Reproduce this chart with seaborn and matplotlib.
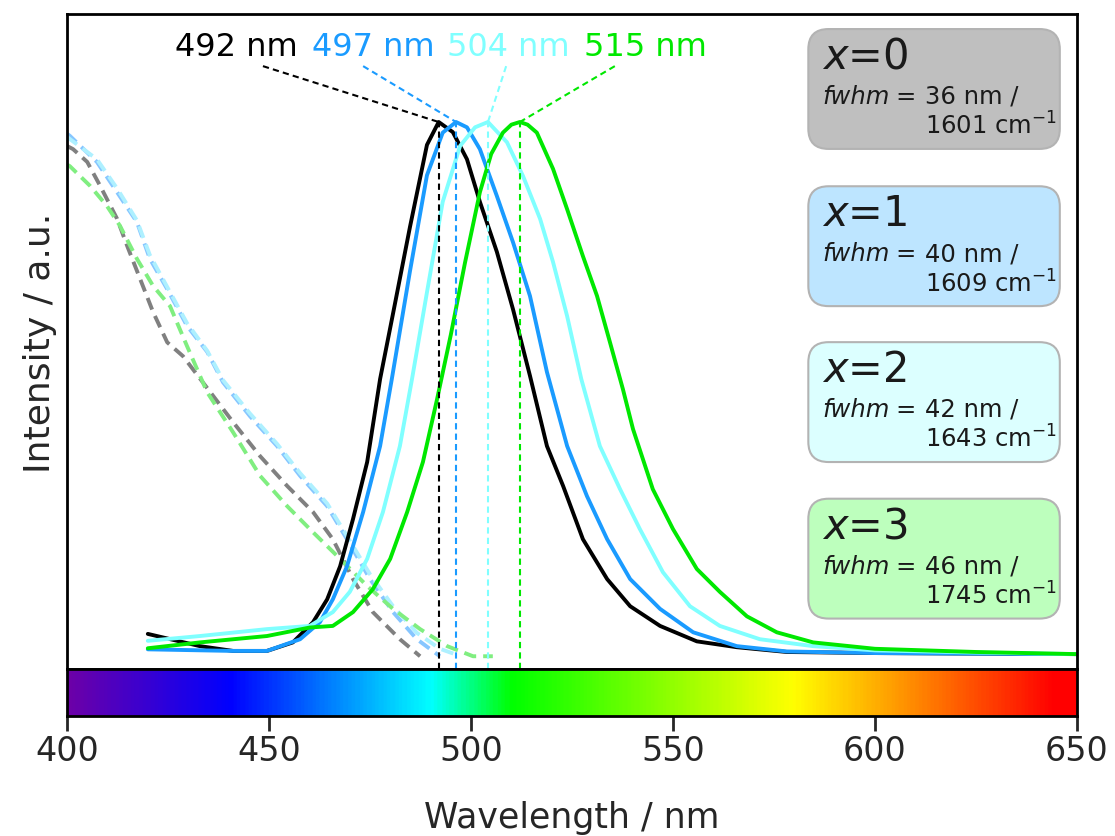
import numpy as np
import pandas as pd
import matplotlib
matplotlib.use("Agg")
import matplotlib.pyplot as plt
import seaborn as sns
from matplotlib.patches import FancyBboxPatch
from matplotlib.colors import LinearSegmentedColormap

# ---------------- data ----------------
# emission spectra (solid)
em0_wl = [420, 432.9, 441.1, 449.5, 455.9, 460.9, 464.4, 467.6, 470.8, 474.3, 477.5, 480.7, 484.9,
          489.1, 492, 495.5, 499, 502.2, 506.4, 510.4, 514.6, 518.8, 522.8, 527.7, 533.7, 539.4,
          546.8, 555.9, 565.8, 578.2, 600, 625, 650]
em0_I = [0.038, 0.015, 0.006, 0.006, 0.022, 0.06, 0.103, 0.165, 0.254, 0.361, 0.517, 0.64, 0.803,
         0.957, 1.0, 0.981, 0.93, 0.85, 0.756, 0.648, 0.523, 0.391, 0.316, 0.216, 0.141, 0.09,
         0.053, 0.024, 0.013, 0.004, 0.002, 0.001, 0.0]

em1_wl = [420, 441.1, 449.5, 457.7, 462.6, 465.8, 469.3, 473.3, 477.5, 480.4, 484.9, 489.1, 493,
          496.3, 499, 502.2, 506.4, 510.4, 514.6, 518.8, 523.8, 528.7, 533.7, 539.4, 546.8, 555,
          565.8, 578.2, 600, 625, 650]
em1_I = [0.009, 0.006, 0.006, 0.028, 0.06, 0.103, 0.165, 0.267, 0.391, 0.517, 0.72, 0.9, 0.98,
         1.0, 0.99, 0.949, 0.861, 0.774, 0.673, 0.53, 0.391, 0.297, 0.216, 0.141, 0.085, 0.041,
         0.015, 0.005, 0.002, 0.001, 0.0]

em2_wl = [420, 432.9, 449.5, 460.1, 465.8, 470, 474.3, 478.2, 482.4, 485.4, 489.1, 493, 497.3, 501,
          504.2, 508.9, 512.9, 517.1, 520.3, 523.8, 527.3, 531.9, 536.9, 541.8, 547.5, 554.2, 561.6,
          571.5, 584.7, 600, 625, 650]
em2_I = [0.025, 0.034, 0.047, 0.053, 0.079, 0.117, 0.179, 0.267, 0.391, 0.517, 0.68, 0.85, 0.955,
         0.99, 1.0, 0.962, 0.898, 0.818, 0.737, 0.635, 0.517, 0.391, 0.31, 0.235, 0.154, 0.09, 0.053,
         0.028, 0.015, 0.007, 0.003, 0.0]

em3_wl = [420, 432.9, 449.5, 460.1, 465.8, 470.8, 475.7, 480, 484.2, 488.1, 491.6, 495, 498.5, 502.2,
          505, 507.9, 510, 512.1, 514, 516.3, 520.3, 523.8, 527.7, 531.2, 534.4, 537.6, 540.1, 545,
          550, 555.9, 561.6, 568.3, 575.7, 584.7, 600, 625, 650]
em3_I = [0.011, 0.022, 0.034, 0.05, 0.053, 0.079, 0.122, 0.179, 0.267, 0.361, 0.479, 0.6, 0.735,
         0.868, 0.94, 0.98, 0.995, 1.0, 0.995, 0.98, 0.912, 0.836, 0.748, 0.673, 0.586, 0.498,
         0.423, 0.31, 0.235, 0.16, 0.117, 0.071, 0.041, 0.022, 0.01, 0.004, 0.0]

# absorption / excitation spectra (dashed)
ab0_wl = [400, 401.5, 405, 408.2, 412.4, 414.9, 418.1, 421.3, 424.8, 428.7, 432.2, 434.7, 441.1,
          447.8, 454.5, 460.9, 465.8, 470.8, 475.7, 482.4, 487.4]
ab0_I = [0.955, 0.949, 0.925, 0.88, 0.818, 0.767, 0.705, 0.643, 0.586, 0.56, 0.525, 0.5, 0.436,
         0.372, 0.316, 0.267, 0.216, 0.141, 0.079, 0.028, -0.004]

ab1_wl = [400, 400.7, 407.4, 412.4, 417.3, 420.5, 424.8, 429.7, 434.7, 438.6, 445.3, 452, 457.7,
          464.4, 469.3, 475, 480.7, 486.6, 492.3]
ab1_I = [0.978, 0.974, 0.925, 0.868, 0.812, 0.743, 0.686, 0.617, 0.568, 0.511, 0.447, 0.391,
         0.335, 0.278, 0.216, 0.141, 0.079, 0.028, -0.004]

ab2_wl = [400, 400.7, 407.4, 412.4, 417.3, 420.5, 424.8, 429.7, 434.7, 438.6, 445.3, 452, 457.7,
          464.4, 469.3, 475, 480.7, 486.6, 492.3, 496]
ab2_I = [0.972, 0.968, 0.93, 0.875, 0.815, 0.75, 0.69, 0.622, 0.57, 0.515, 0.452, 0.395, 0.34,
         0.283, 0.222, 0.15, 0.09, 0.04, 0.01, 0.0]

ab3_wl = [400, 400.7, 405.7, 409.9, 413.1, 417.3, 421.3, 425.5, 429.7, 434.7, 441.1, 447.8, 454.5,
          460.9, 467.6, 474.3, 480.7, 487.4, 494.1, 500.5, 505.4]
ab3_I = [0.92, 0.917, 0.88, 0.842, 0.805, 0.743, 0.692, 0.654, 0.579, 0.492, 0.417, 0.335, 0.278,
         0.229, 0.179, 0.128, 0.085, 0.047, 0.015, -0.004, -0.004]

# peak annotations
peak_labels = ["492 nm", "497 nm", "504 nm", "515 nm"]
peak_pos = [492, 496.3, 504.2, 512.1]
label_x = [441.8, 475.7, 509.2, 543.3]
leader_x = [448.5, 473.3, 508.7, 535.6]

# info boxes
x_values = [0, 1, 2, 3]
fwhm_nm = [36, 40, 42, 46]
fwhm_cm = [1601, 1609, 1643, 1745]

# colours
em_colors = ["#000000", "#1a9bff", "#80ffff", "#00e800"]
ab_colors = ["#808080", "#86c6ff", "#aef0ff", "#80ee80"]
box_colors = ["#bfbfbf", "#bde5ff", "#dcffff", "#bdffbd"]

# visible spectrum stops for the colour bar
spec_wl = [400, 440, 490, 510, 580, 645, 650]
spec_col = ["#6c00a8", "#0000ff", "#00ffff", "#00ff00", "#ffff00", "#ff0000", "#ff0000"]

# ---------------- plotting ----------------
sns.set_style("white")
plt.rcParams['font.family'] = ['DejaVu Sans']
plt.rcParams['mathtext.fontset'] = 'dejavusans'

fig = plt.figure(figsize=(11.15, 8.37), dpi=100)
ax = fig.add_axes([0.0601, 0.1995, 0.9058, 0.7826])
cax = fig.add_axes([0.0601, 0.1434, 0.9058, 0.0561])

ab_sets = [(ab0_wl, ab0_I), (ab1_wl, ab1_I), (ab2_wl, ab2_I), (ab3_wl, ab3_I)]
for (wl, inten), c in zip(ab_sets, ab_colors):
    sns.lineplot(x=wl, y=inten, ax=ax, color=c, lw=2.8, linestyle=(0, (3.2, 1.8)), sort=True)

em_sets = [(em0_wl, em0_I), (em1_wl, em1_I), (em2_wl, em2_I), (em3_wl, em3_I)]
for (wl, inten), c in zip(em_sets, em_colors):
    sns.lineplot(x=wl, y=inten, ax=ax, color=c, lw=2.8, sort=True)

ymin, ymax = -0.028, 1.203
for lab, p, lx, sx, c in zip(peak_labels, peak_pos, label_x, leader_x, em_colors):
    ax.plot([p, p], [ymin, 1.0], color=c, lw=1.5, linestyle=(0, (3, 2)))
    ax.plot([sx, p], [1.105, 1.0], color=c, lw=1.5, linestyle=(0, (3, 2)))
    ax.text(lx, 1.141, lab, color=c, fontsize=23, ha='center', va='center')

ax.set_xlim(400, 650)
ax.set_ylim(ymin, ymax)
ax.set_xticks([])
ax.set_yticks([])
ax.set_xlabel("")
ax.set_ylabel("Intensity / a.u.", fontsize=26, labelpad=7)
for s in ax.spines.values():
    s.set_linewidth(2)
    s.set_color("black")

# info boxes
asp = (0.9058 * 1115) / (0.7826 * 837)
box_left, box_w, box_h = 0.734, 0.249, 0.183
box_tops = [0.977, 0.737, 0.499, 0.260]
tc = "#1a1a1a"
for xv, fn, fc, bc, top in zip(x_values, fwhm_nm, fwhm_cm, box_colors, box_tops):
    patch = FancyBboxPatch((box_left, top - box_h), box_w, box_h,
                           boxstyle="round,pad=0,rounding_size=0.02",
                           mutation_aspect=asp, transform=ax.transAxes,
                           facecolor=bc, edgecolor="#b3b3b3", lw=1.5, zorder=5)
    ax.add_patch(patch)
    ax.text(0.7475, top - 0.041, f"$x$={xv}", transform=ax.transAxes, fontsize=30,
            color=tc, ha='left', va='center', zorder=6)
    ax.text(0.7475, top - 0.102, "fwhm", transform=ax.transAxes, fontsize=17.5, style='italic',
            color=tc, ha='left', va='center', zorder=6)
    ax.text(0.8198, top - 0.102, "=", transform=ax.transAxes, fontsize=17.5,
            color=tc, ha='left', va='center', zorder=6)
    ax.text(0.8495, top - 0.102, f"{fn} nm /", transform=ax.transAxes, fontsize=17.5,
            color=tc, ha='left', va='center', zorder=6)
    ax.text(0.8495, top - 0.147, f"{fc} cm$^{{-1}}$", transform=ax.transAxes, fontsize=17.5,
            color=tc, ha='left', va='center', zorder=6)

# spectrum colour bar
pos = [(w - spec_wl[0]) / (spec_wl[-1] - spec_wl[0]) for w in spec_wl]
cmap = LinearSegmentedColormap.from_list("spec", list(zip(pos, spec_col)))
grad = np.linspace(400, 650, 600).reshape(1, -1)
cax.imshow(grad, extent=(400, 650, 0, 1), aspect='auto', cmap=cmap, vmin=400, vmax=650)
cax.set_xlim(400, 650)
cax.set_ylim(0, 1)
cax.set_yticks([])
cax.set_xticks([400, 450, 500, 550, 600, 650])
cax.tick_params(axis='x', direction='out', length=11, width=2, labelsize=24, pad=2, bottom=True)
cax.set_xlabel("Wavelength / nm", fontsize=25, labelpad=24)
for s in cax.spines.values():
    s.set_linewidth(2)
    s.set_color("black")

fig.savefig("out.png", dpi=100)
